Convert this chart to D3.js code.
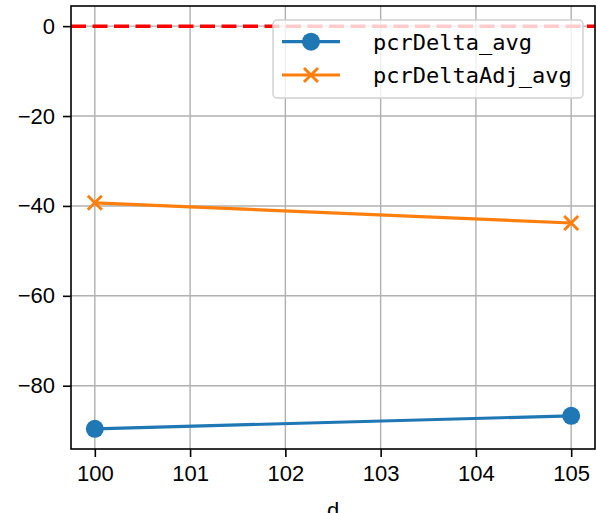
<!DOCTYPE html>
<html><head><meta charset="utf-8">
<script src="https://cdn.jsdelivr.net/npm/d3@7"></script>
<style>body{margin:0;background:#fff;}svg{display:block;}</style>
</head><body>
<script>
const xValues = [100, 105];
const pcrDeltaAvg = [-89.6, -86.7];
const pcrDeltaAdjAvg = [-39.3, -43.8];
const xTicks = [100, 101, 102, 103, 104, 105];
const yTicks = [0, -20, -40, -60, -80];
const seriesNames = ["pcrDelta_avg", "pcrDeltaAdj_avg"];
const seriesColors = ["#1f77b4", "#ff7f0e"];
const refLineY = 0;

const W = 596, H = 513;
const m = {left: 71, right: 1, top: 6, bottom: 64};
const svg = d3.select("body").append("svg").attr("width", W).attr("height", H);
const x = d3.scaleLinear().domain([99.75, 105.25]).range([m.left, W - m.right]);
const y = d3.scaleLinear().domain([-94.08, 4.48]).range([H - m.bottom, m.top]);

const tickFont = "'Liberation Sans', Arial, sans-serif";
// grid
const g = svg.append("g");
g.selectAll(".gx").data(xTicks).enter().append("line")
  .attr("x1", d => x(d)).attr("x2", d => x(d)).attr("y1", m.top).attr("y2", H - m.bottom)
  .attr("stroke", "#b0b0b0").attr("stroke-width", 1.4);
g.selectAll(".gy").data(yTicks).enter().append("line")
  .attr("y1", d => y(d)).attr("y2", d => y(d)).attr("x1", m.left).attr("x2", W - m.right)
  .attr("stroke", "#b0b0b0").attr("stroke-width", 1.4);

// ref line
svg.append("line").attr("x1", m.left).attr("x2", W - m.right)
  .attr("y1", y(refLineY)).attr("y2", y(refLineY))
  .attr("stroke", "red").attr("stroke-width", 3.5).attr("stroke-dasharray", "15,6.5");

// series
const line = d3.line().x((d, i) => x(xValues[i])).y(d => y(d));
const series = [pcrDeltaAvg, pcrDeltaAdjAvg];
series.forEach((s, k) => {
  svg.append("path").datum(s).attr("d", line).attr("fill", "none")
    .attr("stroke", seriesColors[k]).attr("stroke-width", 3.2);
});
svg.selectAll(".dot").data(pcrDeltaAvg).enter().append("circle")
  .attr("cx", (d, i) => x(xValues[i])).attr("cy", d => y(d)).attr("r", 9)
  .attr("fill", seriesColors[0]);
function xMark(sel, cx, cy, s, col) {
  sel.append("path").attr("d", `M${cx-s},${cy-s}L${cx+s},${cy+s}M${cx-s},${cy+s}L${cx+s},${cy-s}`)
    .attr("stroke", col).attr("stroke-width", 3).attr("fill", "none");
}
pcrDeltaAdjAvg.forEach((d, i) => xMark(svg, x(xValues[i]), y(d), 7, seriesColors[1]));

// axes
const xAxis = svg.append("g").attr("transform", `translate(0,${H - m.bottom})`)
  .call(d3.axisBottom(x).tickValues(xTicks).tickSize(8).tickPadding(8).tickFormat(d3.format("d")));
const yAxis = svg.append("g").attr("transform", `translate(${m.left},0)`)
  .call(d3.axisLeft(y).tickValues(yTicks).tickSize(8).tickPadding(8).tickFormat(d => d < 0 ? "\u2212" + Math.abs(d) : d));
[xAxis, yAxis].forEach(a => {
  a.select(".domain").remove();
  a.selectAll("line").attr("stroke", "#000").attr("stroke-width", 1.6);
  a.selectAll("text").attr("font-family", tickFont).attr("font-size", 22).attr("fill", "#000");
});
// spines
svg.append("rect").attr("x", m.left).attr("y", m.top).attr("width", W - m.right - m.left)
  .attr("height", H - m.bottom - m.top).attr("fill", "none").attr("stroke", "#000").attr("stroke-width", 1.6);

// x label
svg.append("text").attr("x", (m.left + W - m.right) / 2).attr("y", 518)
  .attr("text-anchor", "middle").attr("font-family", tickFont).attr("font-size", 22).text("d");

// legend
const lg = svg.append("g");
lg.append("rect").attr("x", 273).attr("y", 20).attr("width", 310).attr("height", 78).attr("rx", 4)
  .attr("fill", "rgba(255,255,255,0.8)").attr("stroke", "#d0d0d0").attr("stroke-width", 1.4);
const rowsY = [41.7, 75];
seriesNames.forEach((name, k) => {
  lg.append("line").attr("x1", 282).attr("x2", 340).attr("y1", rowsY[k]).attr("y2", rowsY[k])
    .attr("stroke", seriesColors[k]).attr("stroke-width", 3.2);
  if (k === 0) lg.append("circle").attr("cx", 311).attr("cy", rowsY[k]).attr("r", 9).attr("fill", seriesColors[0]);
  else xMark(lg, 311, rowsY[k], 7, seriesColors[1]);
  lg.append("text").attr("x", 373).attr("y", rowsY[k] + 8).attr("font-family", "'DejaVu Sans Mono', 'Liberation Mono', monospace")
    .attr("font-size", 22).attr("fill", "#000").text(name);
});
</script>
</body></html>
